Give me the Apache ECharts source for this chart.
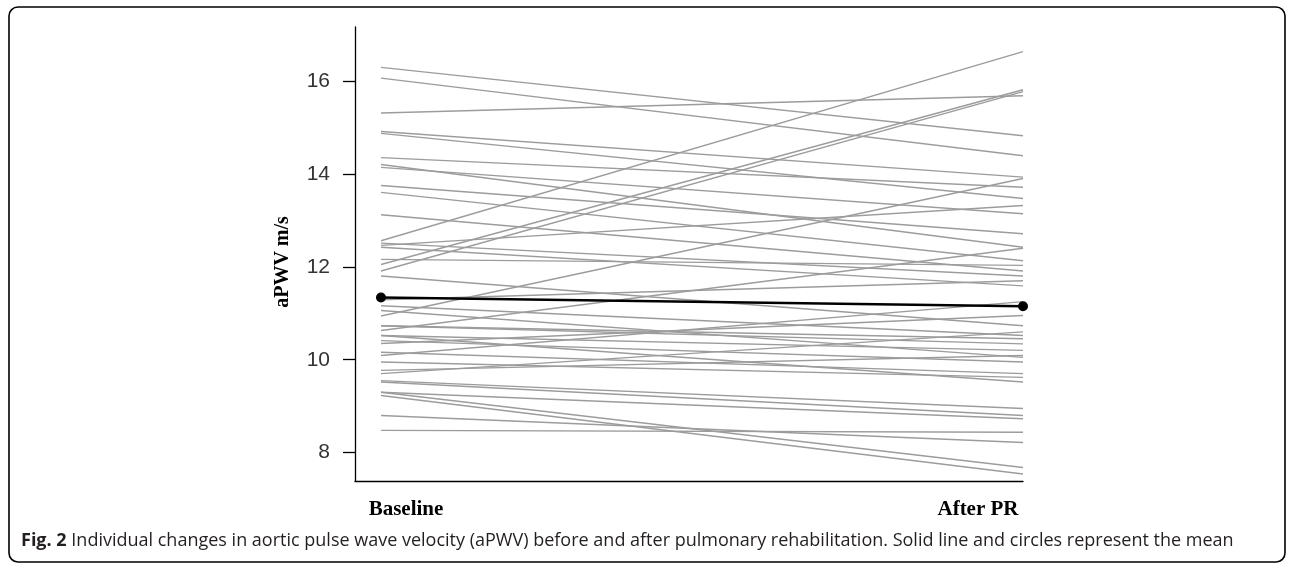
<!DOCTYPE html>
<html>
<head>
<meta charset="utf-8">
<script src="https://cdn.jsdelivr.net/npm/echarts@6/dist/echarts.min.js"></script>
<style>
html,body{margin:0;padding:0;background:#fff;}
#chart{width:1293px;height:563px;}
</style>
</head>
<body>
<div id="chart"></div>
<script>
// Data
var groupLabels = ['Baseline', 'After PR'];
var yTicks = [8, 10, 12, 14, 16];
var baselineValues = [16.29, 16.06, 15.31, 14.91, 14.87, 14.35, 14.20, 14.14, 13.75, 13.60,
  13.12, 12.56, 12.51, 12.46, 12.42, 12.16, 12.05, 11.91, 11.80, 11.29,
  11.16, 10.94, 10.73, 10.63, 10.52, 10.41, 10.35, 10.16, 10.09, 9.95,
  9.77, 9.70, 9.55, 9.52, 9.30, 9.23, 8.80, 8.48, 10.52, 10.73, 11.06, 9.30];
var afterValues = [14.82, 14.39, 15.68, 13.93, 13.47, 13.71, 12.42, 13.14, 12.71, 12.13,
  11.91, 16.63, 11.80, 13.32, 11.59, 12.03, 15.81, 15.77, 10.73, 11.70,
  10.52, 13.90, 10.34, 12.40, 10.20, 9.95, 10.95, 9.70, 11.25, 9.62,
  10.09, 10.60, 8.95, 8.80, 7.68, 7.54, 8.22, 8.44, 9.52, 10.45, 10.05, 8.73];
var meanValues = [11.34, 11.15];
var caption = 'Individual changes in aortic pulse wave velocity (aPWV) before and after pulmonary rehabilitation. Solid line and circles represent the mean';

var chart = echarts.init(document.getElementById('chart'), null, {renderer: 'canvas'});

var series = [];
for (var i = 0; i < baselineValues.length; i++) {
  series.push({
    type: 'line',
    xAxisIndex: 0,
    data: [[0, baselineValues[i]], [1, afterValues[i]]],
    symbol: 'none',
    silent: true,
    lineStyle: {color: '#9c9c9c', width: 1.4},
    z: 2
  });
}
series.push({
  type: 'line',
  xAxisIndex: 0,
  data: [[0, meanValues[0]], [1, meanValues[1]]],
  symbol: 'circle',
  symbolSize: 10,
  itemStyle: {color: '#000'},
  lineStyle: {color: '#000', width: 2.6},
  silent: true,
  z: 5
});

var option = {
  animation: false,
  backgroundColor: '#fff',
  grid: {left: 355, top: 27, width: 668, height: 454, containLabel: false},
  xAxis: [{
    type: 'value', min: -0.0405, max: 1, position: 'bottom',
    axisLine: {show: true, onZero: false, lineStyle: {color: '#000', width: 1.3}},
    axisTick: {show: false}, axisLabel: {show: false}, splitLine: {show: false}
  }, {
    type: 'value', min: -0.0892, max: 1.0787, position: 'bottom',
    axisLine: {show: false}, axisTick: {show: false}, splitLine: {show: false},
    axisLabel: {
      customValues: [0, 1],
      formatter: function (v) { return groupLabels[Math.round(v)]; },
      fontFamily: 'Liberation Serif', fontWeight: 'bold', fontSize: 21, color: '#000', margin: 18
    }
  }],
  yAxis: {
    type: 'value', min: 7.39, max: 17.16,
    name: 'aPWV m/s', nameLocation: 'middle', nameGap: 62,
    nameTextStyle: {fontFamily: 'Liberation Serif', fontWeight: 'bold', fontSize: 20, color: '#000', padding: [0, 16, 0, 0]},
    axisLine: {show: true, onZero: false, lineStyle: {color: '#000', width: 1.3}},
    axisTick: {show: true, customValues: yTicks, length: 12, lineStyle: {color: '#000', width: 1.3}},
    axisLabel: {customValues: yTicks, fontFamily: 'Liberation Sans', fontSize: 21, color: '#333', margin: 25},
    splitLine: {show: false}
  },
  series: series,
  graphic: [{
    type: 'rect', silent: true,
    shape: {x: 9, y: 7, width: 1276, height: 555, r: 9},
    style: {fill: 'none', stroke: '#000', lineWidth: 1.6}
  }, {
    type: 'text', left: 21, top: 532, silent: true,
    style: {
      text: '{b|Fig. 2} ' + caption,
      font: '18px "Open Sans"',
      fill: '#231f20',
      rich: {b: {fontFamily: 'Open Sans', fontWeight: 'bold', fontSize: 18, fill: '#231f20'}}
    }
  }]
};
chart.setOption(option);
</script>
</body>
</html>
